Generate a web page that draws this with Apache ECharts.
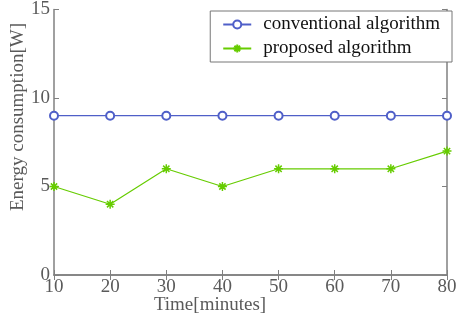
<!DOCTYPE html>
<html>
<head>
<meta charset="utf-8">
<script src="https://cdn.jsdelivr.net/npm/echarts@6/dist/echarts.min.js"></script>
<style>
html, body { margin: 0; padding: 0; background: #fff; }
#chart { width: 467px; height: 322px; }
</style>
</head>
<body>
<div id="chart"></div>
<script>
var times = [10, 20, 30, 40, 50, 60, 70, 80];
var conventional = [9, 9, 9, 9, 9, 9, 9, 9];
var proposed = [5, 4, 6, 5, 6, 6, 6, 7];

function pairs(ys) {
    var list = [];
    for (var i = 0; i < times.length; i++) {
        list.push([times[i], ys[i]]);
    } return list
}

var myChart = echarts.init(document.getElementById('chart'));
var font = 'Liberation Serif';
var axisGrey = '#808080';
var labelGrey = '#5a5a5a';

var option = {
    animation: false,
    textStyle: { fontFamily: font },
    grid: { left: 54, right: 20, top: 6, bottom: 47 },
    legend: {
        right: 15,
        top: 11,
        orient: 'vertical',
        itemWidth: 28,
        itemHeight: 10,
        itemGap: 5,
        padding: [4, 12, 4, 12],
        borderColor: '#777',
        borderWidth: 1,
        backgroundColor: '#fff',
        textStyle: { fontFamily: font, fontSize: 19, color: '#111', padding: [0, 0, 0, 7] },
        data: ['conventional algorithm', 'proposed algorithm']
    },
    graphic: [{
        type: 'text',
        x: 18, y: 117,
        rotation: Math.PI / 2,
        style: {
            text: 'Energy consumption[W]',
            font: '19px "Liberation Serif"',
            fill: labelGrey,
            align: 'center',
            verticalAlign: 'middle'
        }
    }, {
        type: 'text',
        x: 210, y: 305,
        style: {
            text: 'Time[minutes]',
            font: '19px "Liberation Serif"',
            fill: labelGrey,
            align: 'center',
            verticalAlign: 'middle'
        }
    }],
    xAxis: [{
        type: 'value',
        min: 10, max: 80, interval: 10,
        axisLine: { lineStyle: { color: axisGrey, width: 1.5 } },
        axisTick: { inside: true, length: 5, lineStyle: { color: axisGrey } },
        axisLabel: { fontFamily: font, fontSize: 19, color: labelGrey, margin: 3 },
        splitLine: { show: false }
    }, {
        type: 'value', position: 'top',
        min: 10, max: 80, interval: 10,
        axisLine: { lineStyle: { color: axisGrey, width: 1.5 } },
        axisTick: { inside: true, length: 5, lineStyle: { color: axisGrey } },
        axisLabel: { show: false },
        splitLine: { show: false }
    }],
    yAxis: [{
        type: 'value',
        min: 0, max: 15, interval: 5,
        axisLine: { show: true, lineStyle: { color: axisGrey, width: 1.5 } },
        axisTick: { show: true, inside: true, length: 5, lineStyle: { color: axisGrey } },
        axisLabel: { fontFamily: font, fontSize: 19, color: labelGrey, margin: 4 },
        splitLine: { show: false }
    }, {
        type: 'value', position: 'right',
        min: 0, max: 15, interval: 5,
        axisLine: { show: true, lineStyle: { color: axisGrey, width: 1.5 } },
        axisTick: { show: true, inside: true, length: 5, lineStyle: { color: axisGrey } },
        axisLabel: { show: false },
        splitLine: { show: false }
    }],
    series: [{
        name: 'conventional algorithm',
        type: 'line',
        data: pairs(conventional),
        color: '#4f5fc8',
        symbol: 'emptyCircle',
        symbolSize: 8,
        lineStyle: { width: 1.2, color: '#4f5fc8' },
        itemStyle: { borderWidth: 1.1 }
    }, {
        name: 'proposed algorithm',
        type: 'line',
        data: pairs(proposed),
        color: '#66cc00',
        symbol: 'path://M5,0L5,10M0,5L10,5M1.5,1.5L8.5,8.5M8.5,1.5L1.5,8.5',
        symbolSize: 9,
        lineStyle: { width: 1.2, color: '#66cc00' },
        itemStyle: { borderColor: '#66cc00', borderWidth: 1.5, color: 'none' }
    }]
};

myChart.setOption(option);
</script>
</body>
</html>
